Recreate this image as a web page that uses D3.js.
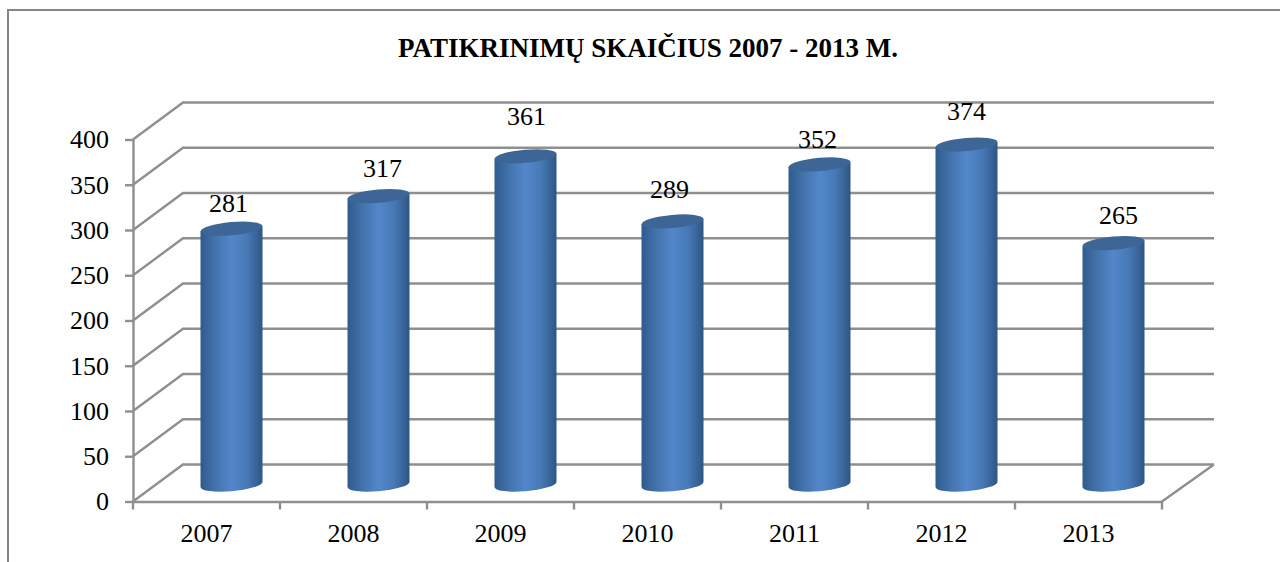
<!DOCTYPE html>
<html>
<head>
<meta charset="utf-8">
<script src="https://cdn.jsdelivr.net/npm/d3@7"></script>
<style>
  html, body { margin: 0; background: #fff; }
  svg { display: block; font-family: "Liberation Serif", serif; }
</style>
</head>
<body>
<div id="chart-container"></div>
<script>
// Chart values
const years = ['2007', '2008', '2009', '2010', '2011', '2012', '2013'];
const checks = [281, 317, 361, 289, 352, 374, 265];
const yTicks = [0, 50, 100, 150, 200, 250, 300, 350, 400];
const chartTitle = 'PATIKRINIMŲ SKAIČIUS 2007 - 2013 M.';

const width = 1280;
const height = 562;

// Front plane of the 3D box, and how far back the rear wall sits
const depthX = 50;
const depthY = -37;
const wallRight = 1214;
const x = d3.scaleBand().domain(years).range([133, 1162]);
const y = d3.scaleLinear().domain([0, 400]).range([501.5, 139.5]);

const svg = d3.select('#chart-container').append('svg')
    .attr('width', width)
    .attr('height', height);

// Horizontal shading of the cylinders
const grad = svg.append('defs').append('linearGradient').attr('id', 'barShade');
grad.append('stop').attr('offset', '0%').attr('stop-color', '#2f5b8e');
grad.append('stop').attr('offset', '25%').attr('stop-color', '#4474ad');
grad.append('stop').attr('offset', '50%').attr('stop-color', '#5387cb');
grad.append('stop').attr('offset', '75%').attr('stop-color', '#4779b6');
grad.append('stop').attr('offset', '100%').attr('stop-color', '#2e5684');

// Outer frame, only top and left are visible in the crop
svg.append('path')
    .attr('d', 'M8,562V10H1280')
    .attr('fill', 'none')
    .attr('stroke', '#868686')
    .attr('stroke-width', 2);

svg.append('text')
    .attr('x', 648)
    .attr('y', 57)
    .attr('text-anchor', 'middle')
    .attr('font-size', 27)
    .attr('font-weight', 'bold')
    .text(chartTitle);

// Gridlines: floor-to-wall diagonal, then along the rear wall
const gridColor = '#8f8f8f';
const lineW = 2.4;
svg.append('g').selectAll('path')
    .data(yTicks)
    .enter()
    .append('path')
    .attr('d', d => `M133,${y(d)}l${depthX},${depthY}H${wallRight}`)
    .attr('fill', 'none')
    .attr('stroke', gridColor)
    .attr('stroke-width', lineW);

// Right edge of the floor
svg.append('path')
    .attr('d', `M${x.range()[1]},${y(0)}L${wallRight},${y(0) + depthY}`)
    .attr('stroke', gridColor)
    .attr('stroke-width', lineW);

// Y axis
const yAxis = svg.append('g')
    .attr('transform', 'translate(133,0)')
    .call(d3.axisLeft(y).tickValues(yTicks).tickSize(8).tickPadding(16).tickSizeOuter(0));

// X axis, labels from the band scale, ticks on the band edges
const xAxis = svg.append('g')
    .attr('transform', `translate(0,${y(0)})`)
    .call(d3.axisBottom(x).tickSize(0).tickPadding(22).tickSizeOuter(0));

xAxis.selectAll('.edge')
    .data(years.concat('end'))
    .enter()
    .append('line')
    .attr('class', 'edge')
    .attr('x1', (d, i) => x.range()[0] + i * x.bandwidth())
    .attr('x2', (d, i) => x.range()[0] + i * x.bandwidth())
    .attr('y1', 0)
    .attr('y2', 8);

[yAxis, xAxis].forEach(axis => {
    axis.selectAll('path.domain, line')
        .attr('stroke', gridColor)
        .attr('stroke-width', lineW);
    axis.selectAll('text')
        .attr('font-family', '"Liberation Serif", serif')
        .attr('font-size', 26)
        .attr('fill', '#000');
});

// Cylinders stand about halfway into the depth of the box
const barW = 62;
const rx = barW / 2;
const ry = 6.6;
const tilt = -5;
const tiltRise = 2.6;

const bars = svg.append('g').selectAll('g')
    .data(years.map((year, i) => ({ year, value: checks[i] })))
    .enter()
    .append('g')
    .attr('transform', d => `translate(${x(d.year) + x.bandwidth() / 2 + 25},0)`);

const baseY = y(0) + depthY / 2 + 1.5;
const topY = d => y(d.value) + depthY / 2;

bars.append('path')
    .attr('fill', 'url(#barShade)')
    .attr('d', d => `M${-rx},${topY(d) + tiltRise}V${baseY + tiltRise}` +
        `A${rx},${ry} ${tilt} 0 0 ${rx},${baseY - tiltRise}V${topY(d) - tiltRise}Z`);

bars.append('ellipse')
    .attr('rx', rx)
    .attr('ry', ry)
    .attr('fill', '#3d6697')
    .attr('transform', d => `translate(0,${topY(d)}) rotate(${tilt})`);

// Value labels are placed by hand in the original, so nudge each one
const labelNudge = { 2007: [-3, -25.5], 2008: [4, -28], 2009: [1, -40], 2010: [-3, -32.5], 2011: [-2, -25.5], 2012: [0, -33], 2013: [5, -27.5] };

bars.append('text')
    .attr('x', d => labelNudge[d.year][0])
    .attr('y', d => topY(d) + labelNudge[d.year][1])
    .attr('dy', '0.33em')
    .attr('text-anchor', 'middle')
    .attr('font-size', 26)
    .text(d => d.value);
</script>
</body>
</html>
